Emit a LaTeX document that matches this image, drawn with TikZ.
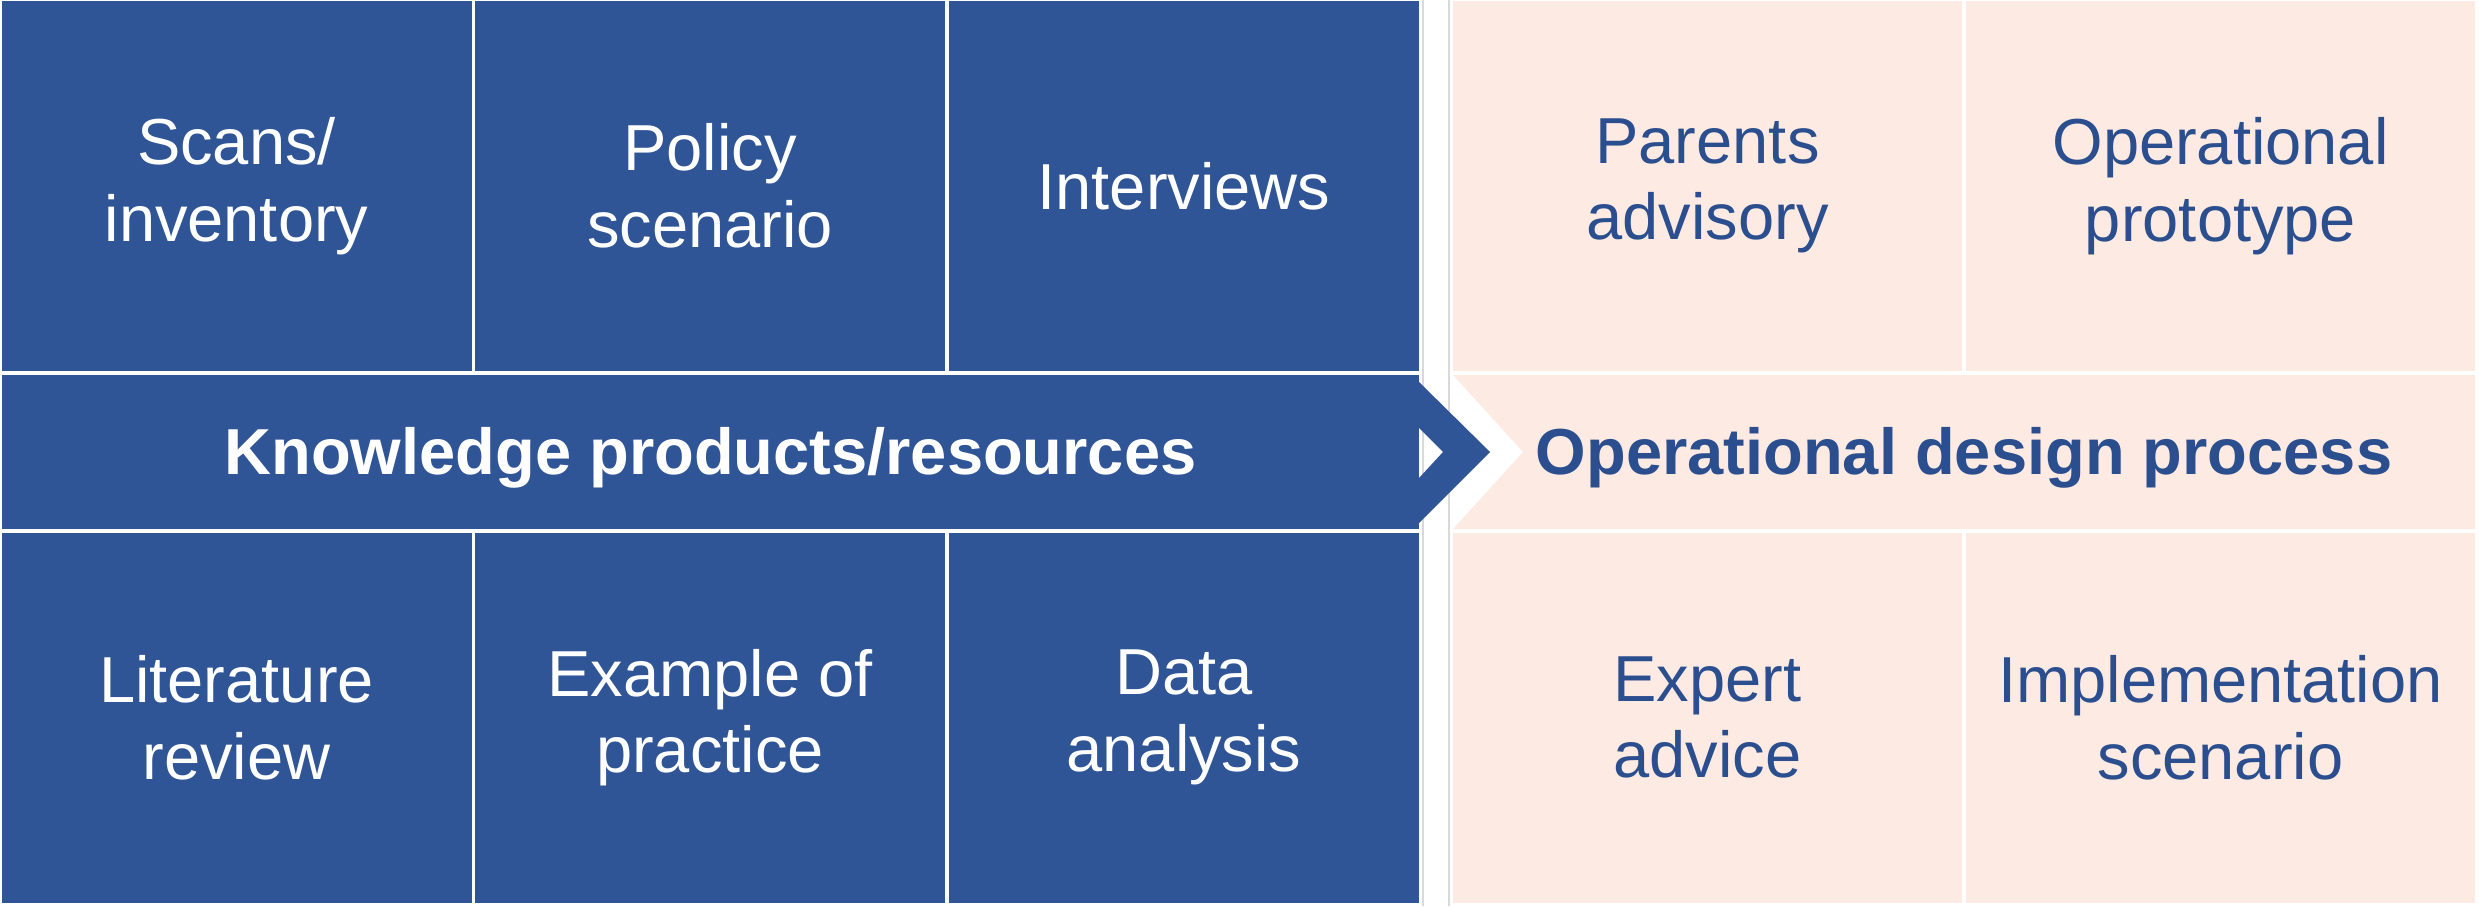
\documentclass[tikz,border=0pt]{standalone}
\usepackage{fontspec}
\setmainfont{Liberation Sans}
\definecolor{kblue}{HTML}{2F5597}
\definecolor{dtext}{HTML}{2B4E8F}
\definecolor{dpink}{HTML}{FDEAE2}
\definecolor{seam}{HTML}{D9D9D9}
\tikzset{
    cell/.style = {
        rectangle,
        inner sep      = 0pt,
        align          = center,
        font           = \fontsize{18.5}{21.8}\selectfont,
    },
    kcell/.style = {
        cell,
        fill           = kblue,
        text           = white,
        minimum width  = 4.70cm,
        minimum height = 3.70cm,
    },
    dcell/.style = {
        cell,
        fill           = dpink,
        text           = dtext,
        minimum width  = 5.09cm,
        minimum height = 3.70cm,
    },
    bartext/.style = {
        cell,
        font           = \fontsize{18.5}{21.8}\selectfont\bfseries,
    },
}

\begin{document}
\begin{tikzpicture}
  % one unit is 100 pixels of the reference
  \path[use as bounding box] (0,0) rectangle (24.79,-9.06);

  % thin seams between the two halves
  \draw[seam, line width=0.4pt] (14.23,0) -- (14.23,-9.06);
  \draw[seam, line width=0.4pt] (14.49,0) -- (14.49,-9.06);

  % knowledge side
  \node[kcell] (scans)  at (2.365,-1.86)  {Scans/\\inventory};
  \node[kcell] (policy) at (7.10,-1.86)   {Policy\\scenario};
  \node[kcell] (interv) at (11.84,-1.86)  {Interviews};
  \node[kcell] (litrev) at (2.365,-7.175) {Literature\\review};
  \node[kcell] (exampl) at (7.10,-7.175)  {Example of\\practice};
  \node[kcell] (datana) at (11.84,-7.175) {Data\\analysis};
  \node[kcell, minimum width=14.17cm, minimum height=1.54cm]
    (know) at (7.105,-4.52) {};
  \node[bartext, text=white, yshift=-0.06cm] (knowtext) at (know)
    {Knowledge products/resources};

  % the chevron
  \fill[kblue] (14.19,-3.82) -- (14.90,-4.52) -- (14.19,-5.23)
    -- (14.19,-4.78) -- (14.43,-4.52) -- (14.19,-4.28) -- cycle;

  % design side
  \node[dcell] (parent) at (17.075,-1.86)  {Parents\\advisory};
  \node[dcell] (oproto) at (22.205,-1.86)  {Operational\\prototype};
  \node[dcell] (expert) at (17.075,-7.175) {Expert\\advice};
  \node[dcell] (implsc) at (22.205,-7.175) {Implementation\\scenario};
  \fill[dpink] (14.53,-3.75) -- (24.75,-3.75) -- (24.75,-5.29)
    -- (14.53,-5.29) -- (15.23,-4.52) -- cycle;
  \node[bartext, text=dtext] (odesign) at (19.64,-4.58)
    {Operational design process};
\end{tikzpicture}
\end{document}
